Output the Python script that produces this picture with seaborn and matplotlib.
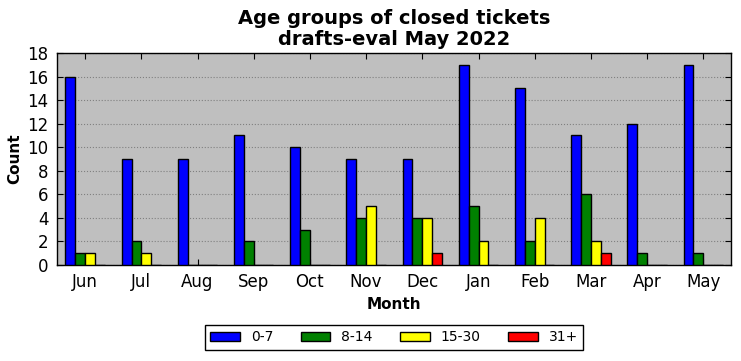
import pandas as pd
import seaborn as sns
import matplotlib.pyplot as plt

# Datos
months = ['Jun', 'Jul', 'Aug', 'Sep', 'Oct', 'Nov', 'Dec', 'Jan', 'Feb', 'Mar', 'Apr', 'May']
groups = ['0-7', '8-14', '15-30', '31+']
age_0_7 = [16, 9, 9, 11, 10, 9, 9, 17, 15, 11, 12, 17]
age_8_14 = [1, 2, 0, 2, 3, 4, 4, 5, 2, 6, 1, 1]
age_15_30 = [1, 1, 0, 0, 0, 5, 4, 2, 4, 2, 0, 0]
age_31 = [0, 0, 0, 0, 0, 0, 1, 0, 0, 1, 0, 0]
colors = ['#0000ff', '#008000', '#ffff00', '#ff0000']

df = pd.DataFrame({'Month': months, '0-7': age_0_7, '8-14': age_8_14,
                   '15-30': age_15_30, '31+': age_31})
df_long = df.melt(id_vars='Month', var_name='Age', value_name='Count')

sns.set_style('ticks')
plt.rcParams['font.family'] = ['DejaVu Sans']
plt.rcParams['text.color'] = 'black'
plt.rcParams['axes.labelcolor'] = 'black'
plt.rcParams['xtick.color'] = 'black'
plt.rcParams['ytick.color'] = 'black'

fig, ax = plt.subplots(figsize=(7.41, 3.61), dpi=100)
fig.subplots_adjust(left=0.077, right=0.987, top=0.853, bottom=0.266)

sns.barplot(data=df_long, x='Month', y='Count', hue='Age', order=months,
            hue_order=groups, palette=colors, width=0.7, saturation=1,
            edgecolor='black', linewidth=1, ax=ax, zorder=3)

ax.set_facecolor('#bfbfbf')
ax.set_axisbelow(True)
ax.yaxis.grid(True, linestyle=':', color='#808080', linewidth=0.8)
ax.set_ylim(0, 18)
ax.set_yticks(range(0, 19, 2))
ax.set_xlim(-0.5, 11.5)
for s in ax.spines.values():
    s.set_visible(True)
    s.set_color('black')
    s.set_linewidth(1)
ax.tick_params(direction='in', top=True, right=True, labelsize=12, length=4, color='black', pad=6)

ax.set_title('Age groups of closed tickets\ndrafts-eval May 2022', fontsize=14, fontweight='bold',
             linespacing=1.1, color='black')
ax.set_xlabel('Month', fontsize=11, fontweight='bold')
ax.set_ylabel('Count', fontsize=11, fontweight='bold')

ax.legend(loc='upper center', bbox_to_anchor=(0.5, -0.25), ncol=4, fontsize=10,
          frameon=True, fancybox=False, edgecolor='black', framealpha=1,
          handlelength=2.1, columnspacing=2.0, borderpad=0.4)

plt.savefig('out.png', dpi=100)
